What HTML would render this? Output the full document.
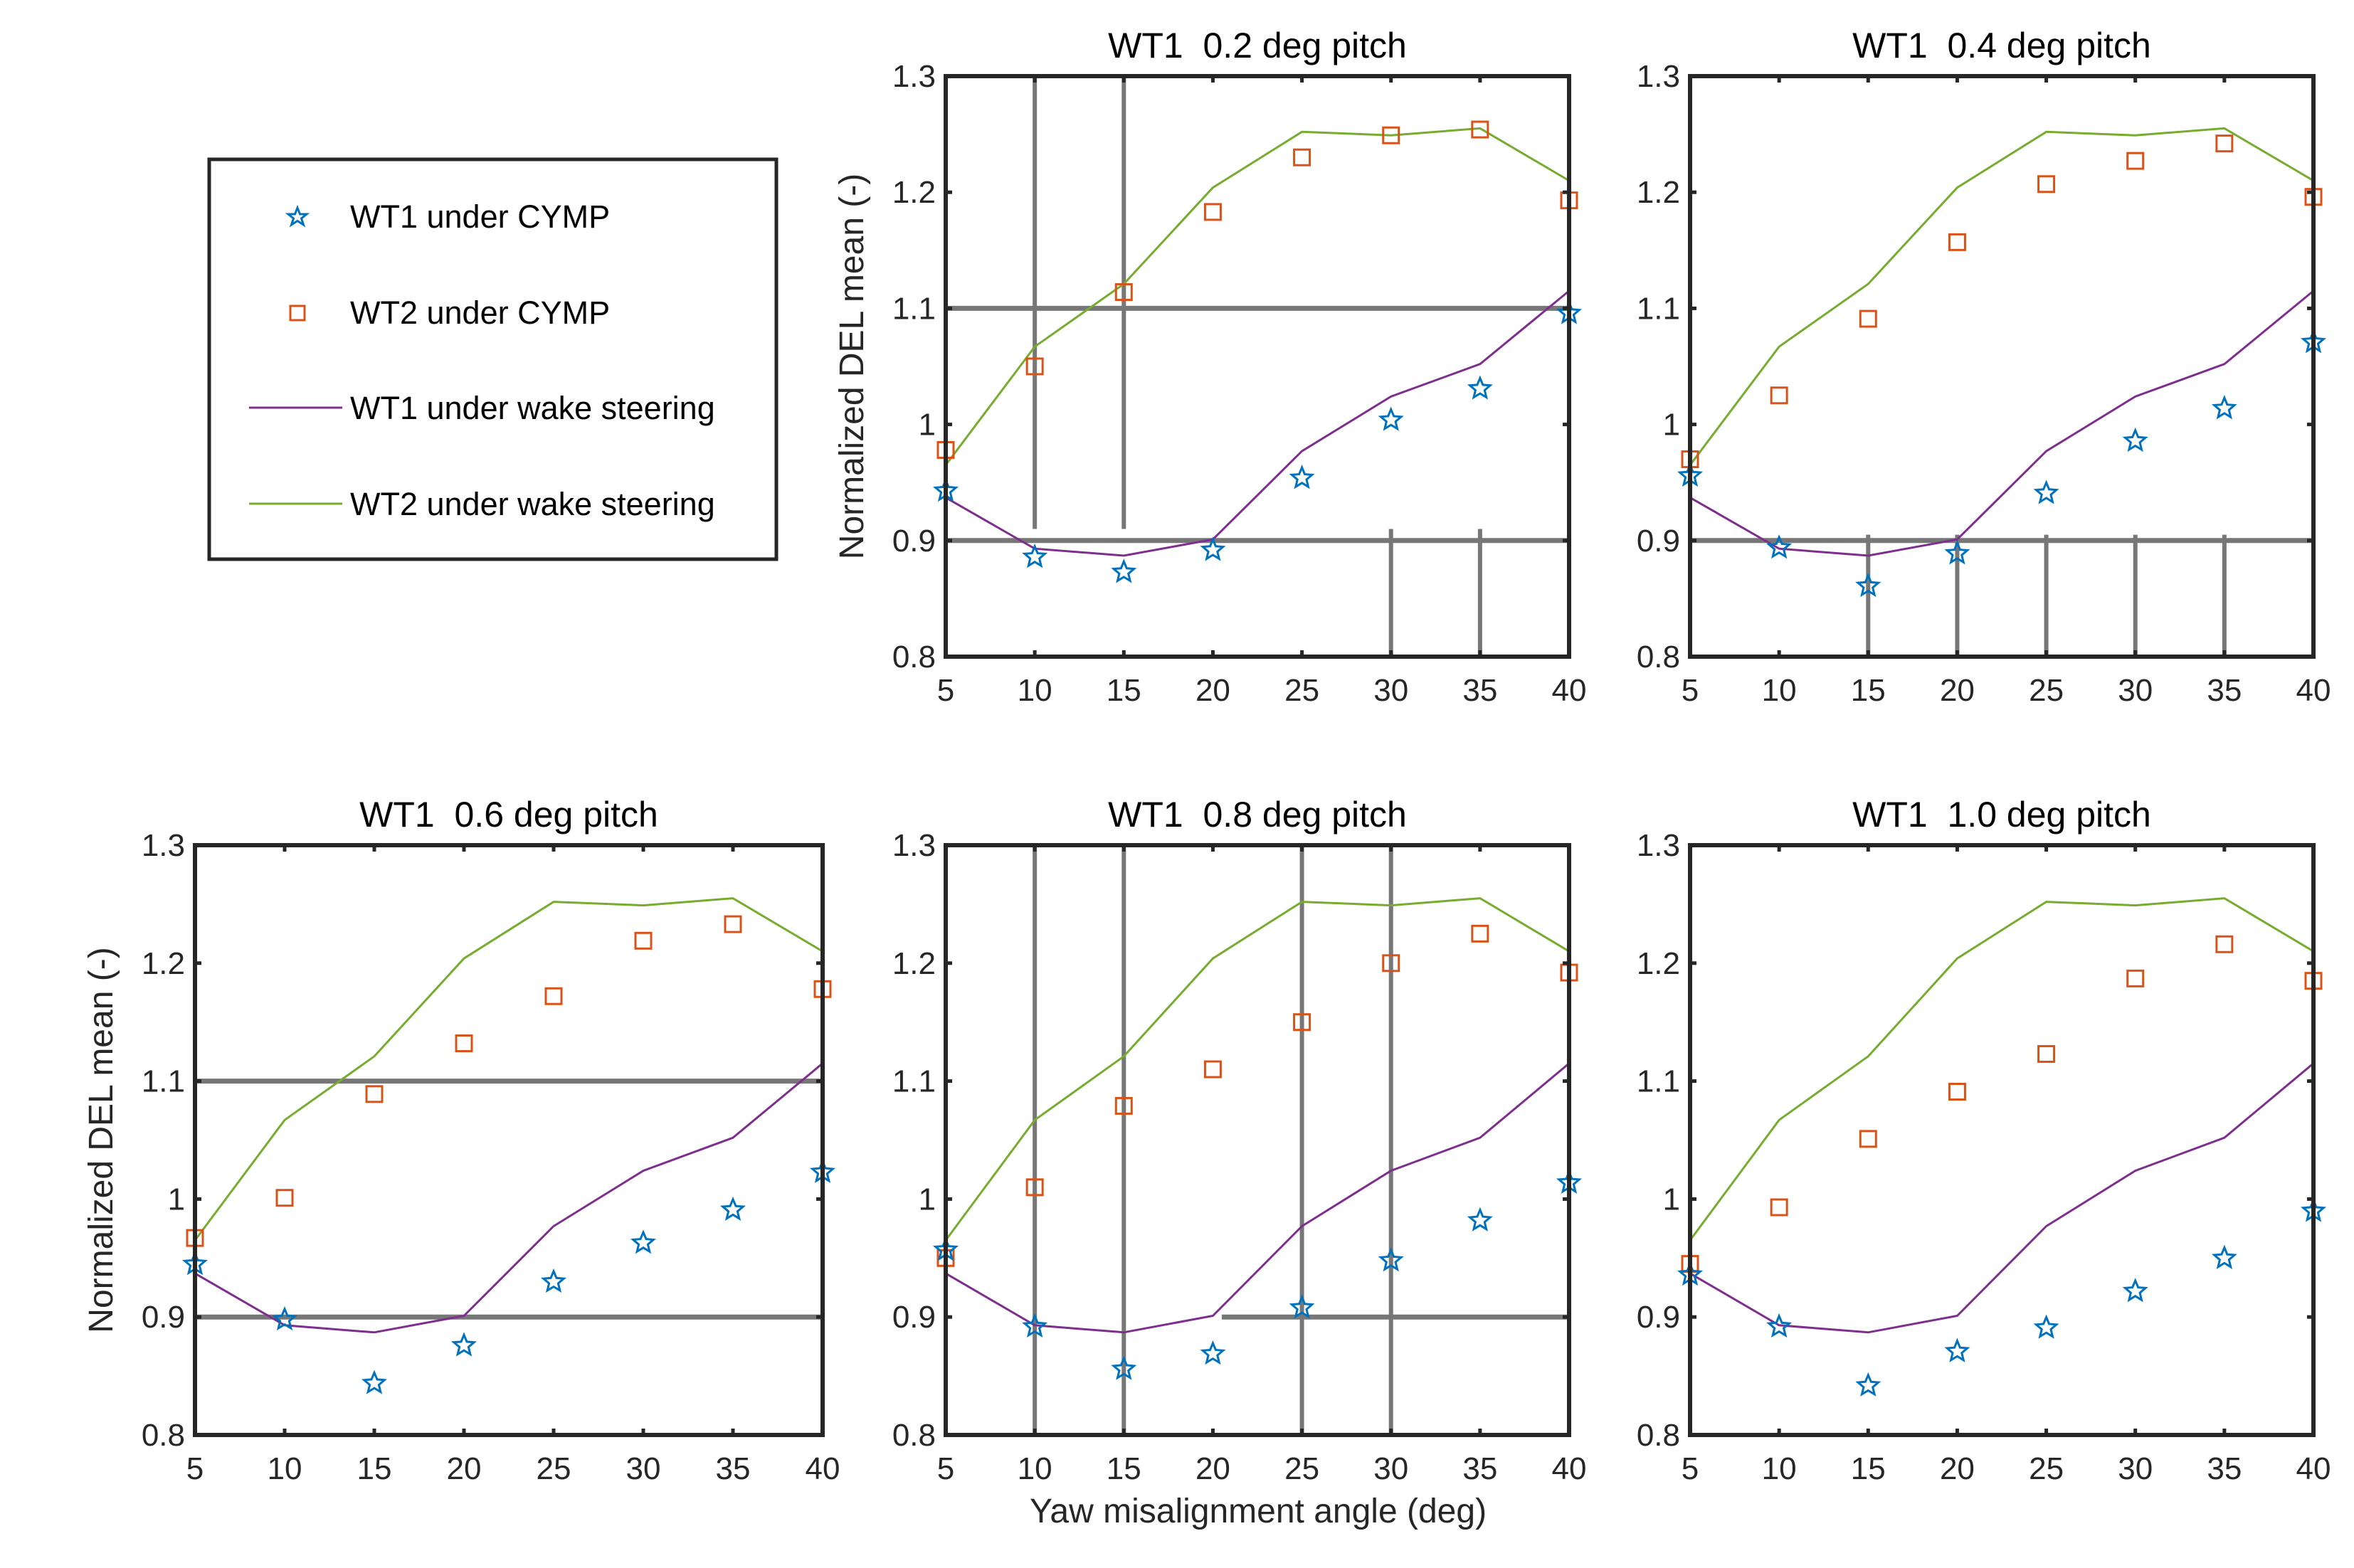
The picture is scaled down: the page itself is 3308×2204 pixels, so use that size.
<!DOCTYPE html>
<html><head><meta charset="utf-8"><style>
html,body{margin:0;padding:0;background:#fff;}
svg{display:block;font-family:"Liberation Sans",Arial,sans-serif;}
text{white-space:pre;}
</style></head><body>
<svg id="fig" width="3308" height="2204" viewBox="0 0 3308 2204" xmlns="http://www.w3.org/2000/svg">
<rect width="3308" height="2204" fill="#fff"/>
<g id="legend">
<rect x="294" y="224" width="797" height="562" fill="#fff" stroke="#262626" stroke-width="5"/>
<g><path d="M418,292 L421.5,301 L431,301 L423.5,307 L426.5,316 L418,310.5 L409.5,316 L412.5,307 L405,301 L414.5,301 Z" fill="none" stroke="#0072BD" stroke-width="3"/><text x="492" y="320" font-size="45" fill="#000">WT1 under CYMP</text></g>
<g><rect x="408" y="430" width="20" height="20" fill="none" stroke="#D95319" stroke-width="3"/><text x="492" y="455" font-size="45" fill="#000">WT2 under CYMP</text></g>
<g><line x1="350" y1="573" x2="481" y2="573" stroke="#7E2F8E" stroke-width="3"/><text x="492" y="589" font-size="45" fill="#000">WT1 under wake steering</text></g>
<g><line x1="350" y1="708" x2="481" y2="708" stroke="#77AC30" stroke-width="3"/><text x="492" y="724" font-size="45" fill="#000">WT2 under wake steering</text></g>
</g>
<text x="1768" y="2140" font-size="48" text-anchor="middle" fill="#262626">Yaw misalignment angle (deg)</text>
</svg>
<script>
const xCats = [5,10,15,20,25,30,35,40];
const yTicks = [0.8,0.9,1.0,1.1,1.2,1.3];
const yTickLabels = ["0.8","0.9","1","1.1","1.2","1.3"];
const wt2Wake = [0.965,1.067,1.121,1.204,1.252,1.249,1.255,1.210];
const wt1Wake = [0.937,0.893,0.887,0.901,0.977,1.024,1.052,1.115];
const titles = ["WT1\u00a0\u00a00.2 deg pitch","WT1\u00a0\u00a00.4 deg pitch","WT1\u00a0\u00a00.6 deg pitch","WT1\u00a0\u00a00.8 deg pitch","WT1\u00a0\u00a01.0 deg pitch"];
const wt1Cymp02 = [0.944,0.887,0.874,0.893,0.955,1.005,1.032,1.097];
const wt2Cymp02 = [0.978,1.050,1.114,1.183,1.230,1.249,1.254,1.193];
const wt1Cymp04 = [0.957,0.895,0.862,0.890,0.942,0.987,1.015,1.072];
const wt2Cymp04 = [0.970,1.025,1.091,1.157,1.207,1.227,1.242,1.196];
const wt1Cymp06 = [0.946,0.899,0.845,0.877,0.931,0.964,0.992,1.024];
const wt2Cymp06 = [0.967,1.001,1.089,1.132,1.172,1.219,1.233,1.178];
const wt1Cymp08 = [0.958,0.893,0.857,0.870,0.909,0.949,0.983,1.015];
const wt2Cymp08 = [0.950,1.010,1.079,1.110,1.150,1.200,1.225,1.192];
const wt1Cymp10 = [0.937,0.893,0.843,0.872,0.892,0.923,0.951,0.991];
const wt2Cymp10 = [0.945,0.993,1.051,1.091,1.123,1.187,1.216,1.185];

const NS="http://www.w3.org/2000/svg";
const svg=document.getElementById('fig');
function mk(tag,attrs,parent){const e=document.createElementNS(NS,tag);for(const k in attrs)e.setAttribute(k,attrs[k]);(parent||svg).appendChild(e);return e;}

const panels=[
 {x0:1329,x1:2205,y0:107,y1:923,t:0,s1:wt1Cymp02,s2:wt2Cymp02,ylab:true,
  vg:[[10,1.3,0.91],[15,1.3,0.91],[30,0.91,0.8],[35,0.91,0.8]],hg:[[1.1,5,40],[0.9,5,40]]},
 {x0:2375,x1:3251,y0:107,y1:923,t:1,s1:wt1Cymp04,s2:wt2Cymp04,ylab:false,
  vg:[[15,0.905,0.8],[20,0.905,0.8],[25,0.905,0.8],[30,0.905,0.8],[35,0.905,0.8]],hg:[[0.9,5,40]]},
 {x0:274,x1:1156,y0:1188,y1:2017,t:2,s1:wt1Cymp06,s2:wt2Cymp06,ylab:true,
  vg:[],hg:[[1.1,5,40],[0.9,5,40]]},
 {x0:1329,x1:2205,y0:1188,y1:2017,t:3,s1:wt1Cymp08,s2:wt2Cymp08,ylab:false,
  vg:[[10,1.3,0.8],[15,1.3,0.8],[25,1.3,0.8],[30,1.3,0.8]],hg:[[0.9,20.5,40]]},
 {x0:2375,x1:3251,y0:1188,y1:2017,t:4,s1:wt1Cymp10,s2:wt2Cymp10,ylab:false,vg:[],hg:[]}
];

function starPath(cx,cy,R){const r=R*0.45;let d='';for(let i=0;i<10;i++){const a=-Math.PI/2+i*Math.PI/5;const rr=i%2?r:R;d+=(i?'L':'M')+(cx+rr*Math.cos(a)).toFixed(1)+','+(cy+rr*Math.sin(a)).toFixed(1);}return d+'Z';}

panels.forEach((p,pi)=>{
 const g=mk('g',{});
 
 
 const X=v=>p.x0+(v-5)/(40-5)*(p.x1-p.x0);
 const Y=v=>p.y1-(v-0.8)/(1.3-0.8)*(p.y1-p.y0);
 p.vg.forEach(l=>{const e=mk('line',{x1:X(l[0]),x2:X(l[0]),y1:Y(l[1]),y2:Y(l[2]),stroke:'#777','stroke-width':6},g);
  
  });
 p.hg.forEach(l=>{const e=mk('line',{x1:X(l[1]),x2:X(l[2]),y1:Y(l[0]),y2:Y(l[0]),stroke:'#777','stroke-width':7},g);
  
  });
 const pts=a=>a.map((v,i)=>X(xCats[i]).toFixed(1)+','+Y(v).toFixed(1)).join(' ');
 const l2=mk('polyline',{points:pts(wt2Wake),fill:'none',stroke:'#77AC30','stroke-width':3},g);
 
 
 const l1=mk('polyline',{points:pts(wt1Wake),fill:'none',stroke:'#7E2F8E','stroke-width':3},g);
 
 
 p.s2.forEach((v,i)=>{const e=mk('rect',{x:X(xCats[i])-11,y:Y(v)-11,width:22,height:22,fill:'none',stroke:'#D95319','stroke-width':3},g);
  
  });
 p.s1.forEach((v,i)=>{const e=mk('path',{d:starPath(X(xCats[i]),Y(v)+2,15),fill:'none',stroke:'#0072BD','stroke-width':3},g);
  
  });
 const b=mk('rect',{x:p.x0,y:p.y0,width:p.x1-p.x0,height:p.y1-p.y0,fill:'none',stroke:'#262626','stroke-width':6},g);
 
 
 xCats.forEach(v=>{
  mk('line',{x1:X(v),x2:X(v),y1:p.y1,y2:p.y1-9,stroke:'#262626','stroke-width':5},g);
  mk('line',{x1:X(v),x2:X(v),y1:p.y0,y2:p.y0+9,stroke:'#262626','stroke-width':5},g);
  const t=mk('text',{x:X(v),y:p.y1+62,'font-size':44,'text-anchor':'middle',fill:'#262626'},g);
  t.textContent=v;
  
  
 });
 yTicks.forEach((v,i)=>{
  mk('line',{x1:p.x0,x2:p.x0+9,y1:Y(v),y2:Y(v),stroke:'#262626','stroke-width':5},g);
  mk('line',{x1:p.x1,x2:p.x1-9,y1:Y(v),y2:Y(v),stroke:'#262626','stroke-width':5},g);
  const t=mk('text',{x:p.x0-14,y:Y(v)+15,'font-size':44,'text-anchor':'end',fill:'#262626'},g);
  t.textContent=yTickLabels[i];
  
  
 });
 const tt=mk('text',{x:(p.x0+p.x1)/2,y:p.y0-26,'font-size':50,'text-anchor':'middle',fill:'#000'},g);
 tt.textContent=titles[p.t];
 
 
 if(p.ylab){
  const cy=(p.y0+p.y1)/2, cx=p.x0-116;
  const yl=mk('text',{x:cx,y:cy,'font-size':48,'text-anchor':'middle',fill:'#262626',transform:'rotate(-90 '+cx+' '+cy+')'},g);
  yl.textContent='Normalized DEL mean (-)';
  
  
 }
});
</script>
</body></html>
